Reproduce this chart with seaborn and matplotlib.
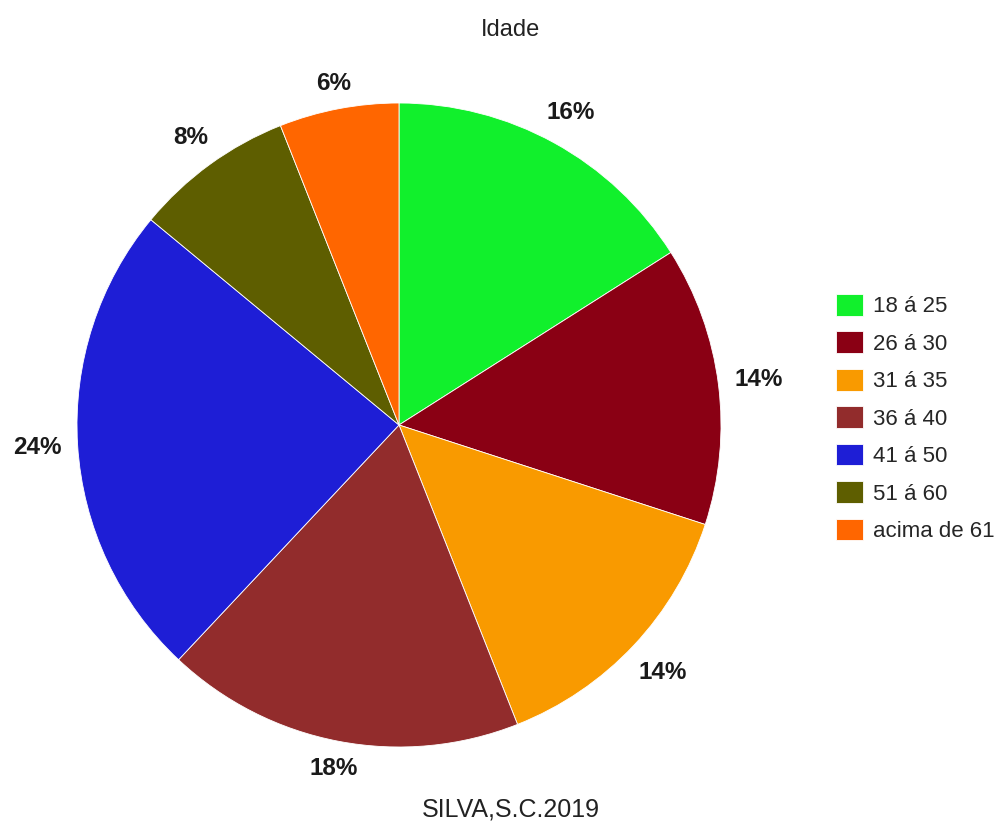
import matplotlib
matplotlib.use("Agg")
import matplotlib.pyplot as plt
import numpy as np
import seaborn as sns

# Age distribution of respondents (percent)
categories = ["18 á 25", "26 á 30", "31 á 35", "36 á 40", "41 á 50", "51 á 60", "acima de 61"]
values = [16, 14, 14, 18, 24, 8, 6]
colors = ["#11F02C", "#8A0014", "#F99A00", "#922C2C", "#1E1ED6", "#5E5E00", "#FF6600"]

sns.set_theme(style="white")
plt.rcParams["font.family"] = ["Liberation Sans", "DejaVu Sans"]

fig = plt.figure(figsize=(10.03, 8.27), dpi=100)
ax = fig.add_axes([77 / 1003, 80 / 827, 644 / 1003, 644 / 827])

wedges, texts, autotexts = ax.pie(
    values,
    colors=colors,
    startangle=90,
    counterclock=False,
    radius=1.0,
    autopct="%d%%",
    pctdistance=1.1,
    wedgeprops=dict(edgecolor="white", linewidth=0.6),
    textprops=dict(fontsize=17.5, fontweight="bold", color="#1a1a1a"),
)
ax.set_xlim(-1, 1)
ax.set_ylim(-1, 1)
ax.set_aspect("equal")

# Push each percentage label outward so its nearest edge sits just off the rim
fig.canvas.draw()
renderer = fig.canvas.get_renderer()
inv = ax.transData.inverted()
gap, side_pad = 1.033, 0.015
for w, t in zip(wedges, autotexts):
    theta = np.deg2rad((w.theta1 + w.theta2) / 2)
    bb = t.get_window_extent(renderer)
    (x0, y0), (x1, y1) = inv.transform([[bb.x0, bb.y0], [bb.x1, bb.y1]])
    half_w, half_h = (x1 - x0) / 2, (y1 - y0) / 2
    r = gap + (half_w + side_pad) * abs(np.cos(theta)) + half_h * abs(np.sin(theta))
    t.set_position((r * np.cos(theta), r * np.sin(theta)))
    t.set_ha("center")
    t.set_va("center")

fig.text(0.509, 0.964, "Idade", ha="center", va="center", fontsize=17, color="#222222")
fig.text(0.509, 0.021, "SILVA,S.C.2019", ha="center", va="center", fontsize=18, color="#222222")

fig.legend(
    wedges, categories,
    loc="center left",
    bbox_to_anchor=(836 / 1003, 0.4946),
    frameon=False,
    fontsize=16,
    handlelength=1.2,
    handleheight=1.13,
    handletextpad=0.45,
    labelspacing=0.63,
    borderpad=0,
    borderaxespad=0,
)

fig.savefig("out.png", dpi=100)
